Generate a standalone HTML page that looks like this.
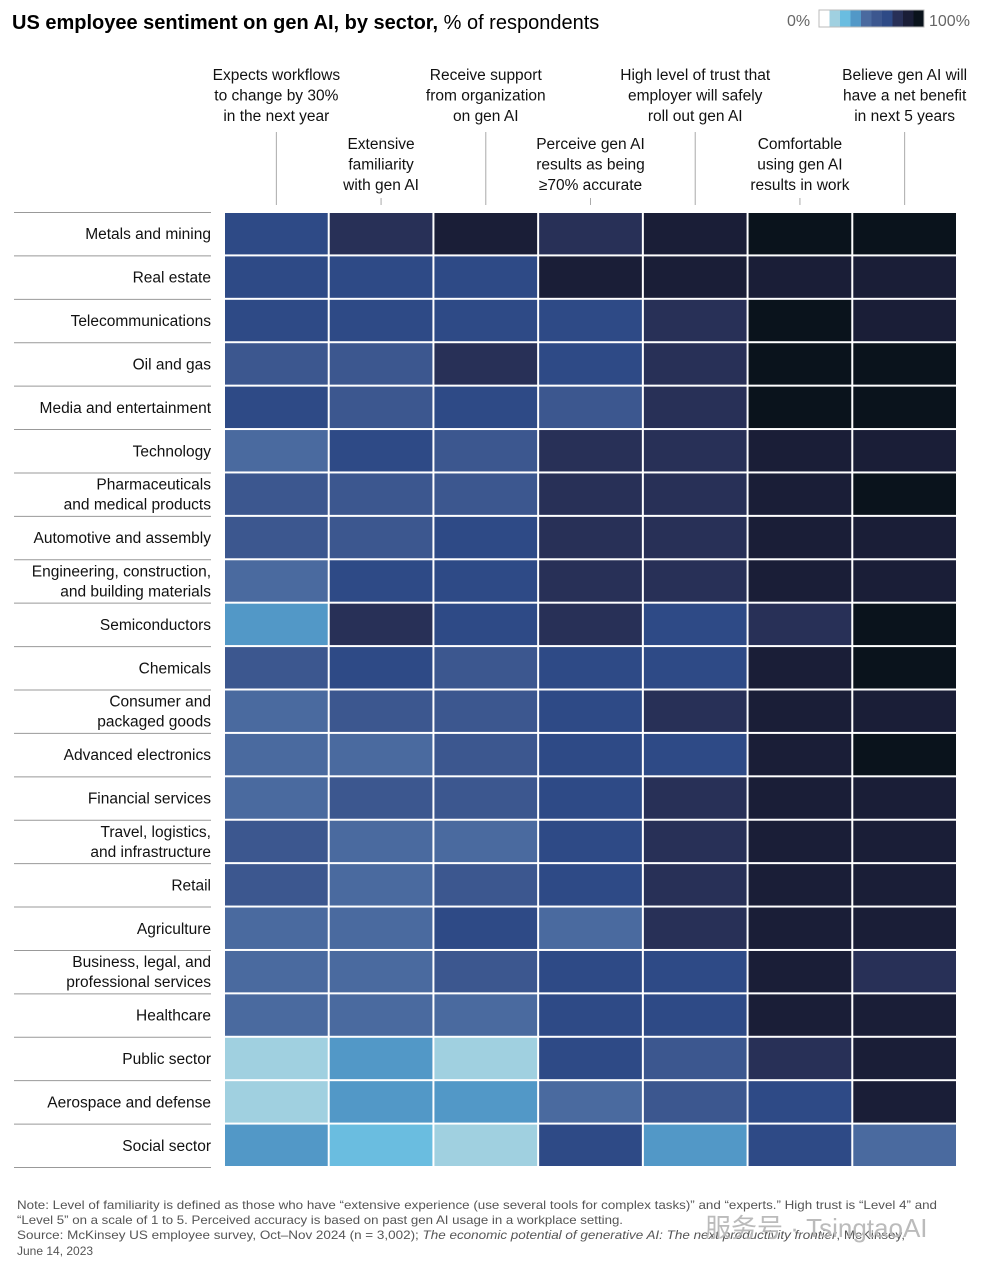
<!DOCTYPE html>
<html><head><meta charset="utf-8"><style>
body{margin:0;background:#fff;width:982px;height:1266px;overflow:hidden;font-family:"Liberation Sans",sans-serif;color:#111;}
svg{display:block}
</style></head><body>
<svg id="chart" width="982" height="1266">
<text x="12" y="29" font-size="20"><tspan font-weight="bold">US employee sentiment on gen AI, by sector,</tspan> % of respondents</text>
<g>
<text x="787" y="26" font-size="16" fill="#666">0%</text>
<text x="929" y="26" font-size="16" fill="#666">100%</text>
</g>
<g id="legend"></g>
<g id="heads"></g>
<g id="cells"></g>
<g id="labels"></g>
<g font-size="12" fill="#555">
<text x="17" y="1209" textLength="920" lengthAdjust="spacingAndGlyphs">Note: Level of familiarity is defined as those who have “extensive experience (use several tools for complex tasks)” and “experts.” High trust is “Level 4” and</text>
<text x="17" y="1224" textLength="606" lengthAdjust="spacingAndGlyphs">“Level 5” on a scale of 1 to 5. Perceived accuracy is based on past gen AI usage in a workplace setting.</text>
<text x="17" y="1239" textLength="888" lengthAdjust="spacingAndGlyphs">Source: McKinsey US employee survey, Oct–Nov 2024 (n = 3,002); <tspan font-style="italic">The economic potential of generative AI: The next productivity frontier</tspan>, McKinsey,</text>
<text x="17" y="1255">June 14, 2023</text>
<text x="705" y="1237" font-size="26" fill="#bbb" font-family="Liberation Sans, Noto Sans CJK SC, sans-serif">服务号 · TsingtaoAI</text>
</g>
</svg>
<script>
const sectors=["Metals and mining","Real estate","Telecommunications","Oil and gas","Media and entertainment","Technology","Pharmaceuticals|and medical products","Automotive and assembly","Engineering, construction,|and building materials","Semiconductors","Chemicals","Consumer and|packaged goods","Advanced electronics","Financial services","Travel, logistics,|and infrastructure","Retail","Agriculture","Business, legal, and|professional services","Healthcare","Public sector","Aerospace and defense","Social sector"];
const metrics=["Expects workflows|to change by 30%|in the next year","Extensive|familiarity|with gen AI","Receive support|from organization|on gen AI","Perceive gen AI|results as being|≥70% accurate","High level of trust that|employer will safely|roll out gen AI","Comfortable|using gen AI|results in work","Believe gen AI will|have a net benefit|in next 5 years"];
const values=[
[65,75,85,75,85,95,95],[65,65,65,85,85,85,85],[65,65,65,65,75,95,85],[55,55,75,65,75,95,95],
[65,55,65,55,75,95,95],[45,65,55,75,75,85,85],[55,55,55,75,75,85,95],[55,55,65,75,75,85,85],
[45,65,65,75,75,85,85],[35,75,65,75,65,75,95],[55,65,55,65,65,85,95],[45,55,55,65,75,85,85],
[45,45,55,65,65,85,95],[45,55,55,65,75,85,85],[55,45,45,65,75,85,85],[55,45,55,65,75,85,85],
[45,45,65,45,75,85,85],[45,45,55,65,65,85,75],[45,45,45,65,65,85,85],[15,35,15,65,55,75,85],
[15,35,35,45,55,65,85],[35,25,15,65,35,65,45]];
const palette=["#ffffff","#a0d0e0","#6abde0","#5298c7","#4a6a9f","#3c578f","#2e4a86","#283057","#1a1e37","#0a131c"];
const NS="http://www.w3.org/2000/svg";
function mk(tag,attrs,parent){const e=document.createElementNS(NS,tag);for(const k in attrs)e.setAttribute(k,attrs[k]);parent.appendChild(e);return e;}
const x0=224,x1=957,y0=212,y1=1167;
const cw=(x1-x0)/metrics.length,rh=(y1-y0)/sectors.length;
const xs=i=>x0+i*cw, ys=j=>y0+j*rh;
const color=v=>palette[Math.min(9,Math.floor(v/10))];
const lg=document.getElementById('legend');
for(let i=0;i<10;i++){const r=mk('rect',{x:819+i*10.5,y:10,width:10.5,height:17,fill:palette[i]},lg);

}
mk('rect',{x:819,y:10,width:105,height:17,fill:'none',stroke:'#bbb'},lg);
const hd=document.getElementById('heads');
metrics.forEach((m,i)=>{const cx=xs(i)+cw/2;const top=i%2===0?80:149;
const t=mk('text',{x:cx,y:top,'text-anchor':'middle','font-size':'15.5',fill:'#111'},hd);


m.split('|').forEach((l,k)=>{const s=mk('tspan',{x:cx,y:top+k*20.5},t);s.textContent=l;});
const ln=mk('line',{x1:cx,x2:cx,y1:i%2===0?132:198,y2:205,stroke:'#aaa','stroke-width':1},hd);

});
const cg=document.getElementById('cells');
values.forEach((row,j)=>row.forEach((v,i)=>{const r=mk('rect',{x:xs(i)+1,y:ys(j)+1,width:cw-2,height:rh-2,fill:color(v)},cg);

}));
const lb=document.getElementById('labels');
sectors.forEach((s,j)=>{const ln=mk('line',{x1:14,x2:211,y1:ys(j)+0.5,y2:ys(j)+0.5,stroke:'#999','stroke-width':1},lb);


const parts=s.split('|');const cy=ys(j)+rh/2;
const t=mk('text',{'text-anchor':'end','font-size':'15.5',fill:'#111'},lb);


parts.forEach((p,k)=>{const sp=mk('tspan',{x:211,y:cy+5.5+(k-(parts.length-1)/2)*20},t);sp.textContent=p;});});
const bl=mk('line',{x1:14,x2:211,y1:y1+0.5,y2:y1+0.5,stroke:'#999'},lb);


</script>
</body></html>
